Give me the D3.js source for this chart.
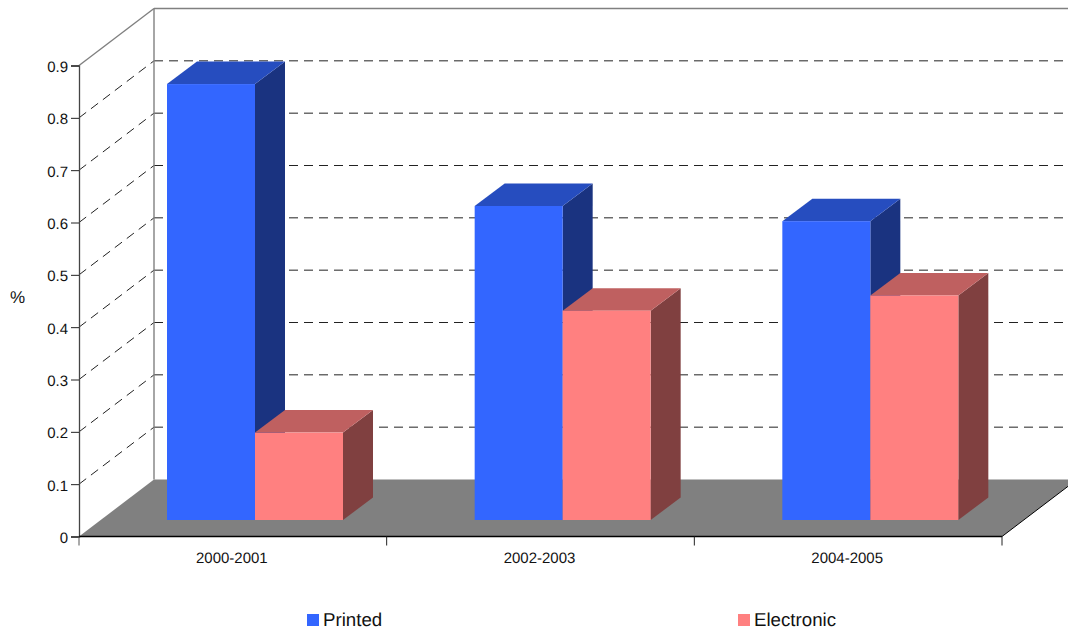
<!DOCTYPE html>
<html><head><meta charset="utf-8">
<script src="https://cdn.jsdelivr.net/npm/d3@7"></script>
<style>html,body{margin:0;background:#fff}svg{display:block;text-rendering:geometricPrecision}text{font-family:"Liberation Sans",Arial,sans-serif;fill:#111}</style>
</head><body><div id="c"></div>
<script>
const categories=["2000-2001","2002-2003","2004-2005"];
const seriesNames=["Printed","Electronic"];
const printed=[0.833,0.6,0.571];
const electronic=[0.167,0.4,0.429];
const yTicks=[0,0.1,0.2,0.3,0.4,0.5,0.6,0.7,0.8,0.9];
const colors=[{f:"#3366ff",t:"#264dbf",s:"#1a3380"},{f:"#ff8080",t:"#bf6060",s:"#804040"}];

const W=1068,H=633,left=79,right=1002,y0=536.5,yTop=65.5;
const wallDx=75,wallDy=-57,barDx=30,barDy=-22.5,barInDy=-16.5,barW=88;
const svg=d3.select("#c").append("svg").attr("width",W).attr("height",H);
const x=d3.scaleBand().domain(categories).range([left,right]);
const y=d3.scaleLinear().domain([0,0.9]).range([y0,yTop]);
const poly=pts=>pts.map(p=>p.join(",")).join(" ");

// gridlines
const grid=svg.append("g").attr("fill","none").attr("stroke","#222").attr("stroke-dasharray","9,6");
yTicks.filter(d=>d>0&&d<0.9).forEach(d=>{
  grid.append("line").attr("x1",left).attr("y1",y(d)).attr("x2",left+wallDx).attr("y2",y(d)+wallDy);
  grid.append("line").attr("x1",left+wallDx).attr("y1",y(d)+wallDy).attr("x2",right+wallDx).attr("y2",y(d)+wallDy);
});
// walls
const wall=svg.append("g").attr("stroke","#808080").attr("stroke-width",1.4).attr("fill","none");
wall.append("line").attr("x1",left).attr("y1",yTop).attr("x2",left+wallDx).attr("y2",yTop+wallDy);
wall.append("line").attr("x1",left+wallDx).attr("y1",yTop+wallDy).attr("x2",left+wallDx).attr("y2",y0+wallDy);
wall.append("line").attr("x1",left+wallDx).attr("y1",yTop+wallDy).attr("x2",right+wallDx).attr("y2",yTop+wallDy);

// floor
svg.append("polygon").attr("points",poly([[left,y0],[left+wallDx,y0+wallDy],[right+wallDx,y0+wallDy],[right,y0]])).attr("fill","#808080");
svg.append("line").attr("x1",right).attr("y1",y0).attr("x2",right+wallDx).attr("y2",y0+wallDy).attr("stroke","#000");

// bars
const base=y0+barInDy;
categories.forEach((c,i)=>{
  [printed[i],electronic[i]].forEach((v,k)=>{
    const x0=x(c)+88+k*barW, x1=x0+barW, top=base-v*(y(0)-y(1));
    const g=svg.append("g").datum({c,v,k});
    g.append("polygon").attr("fill",colors[k].s).attr("points",poly([[x1,base],[x1+barDx,base+barDy],[x1+barDx,top+barDy],[x1,top]]));
    g.append("polygon").attr("fill",colors[k].t).attr("points",poly([[x0,top],[x0+barDx,top+barDy],[x1+barDx,top+barDy],[x1,top]]));
    g.append("rect").attr("x",x0).attr("y",top).attr("width",barW).attr("height",base-top).attr("fill",colors[k].f);
  });
});

// axes
const ya=svg.append("g").attr("transform",`translate(${left},0)`)
  .call(d3.axisLeft(y).tickValues(yTicks).tickFormat(d3.format("~g")).tickSize(8).tickPadding(3));
ya.selectAll("path").attr("stroke","#444").attr("stroke-width",1.3);
ya.selectAll("line").attr("stroke","#222");
ya.selectAll("text").attr("font-size",15).attr("fill","#111").attr("dy","0.4em");
const xa=svg.append("g").attr("transform",`translate(0,${y0})`)
  .call(d3.axisBottom(x).tickSize(0).tickPadding(16));
xa.selectAll("path").attr("stroke","#000").attr("stroke-width",1.3).attr("d",`M${left},0H${right}`);
xa.selectAll("text").attr("font-size",15).attr("fill","#111").attr("dx",-1);
[0,1,2,3].forEach(i=>{
  const tx=i<3?x(categories[i]):right;
  xa.append("line").attr("x1",tx).attr("x2",tx).attr("y1",0).attr("y2",9).attr("stroke",i==0?"#555":"#222");
});

svg.append("text").attr("x",17.5).attr("y",303).attr("text-anchor","middle").attr("font-size",17).text("%");

// legend
const legendX=[307,738];
seriesNames.forEach((n,k)=>{
  svg.append("rect").attr("x",legendX[k]).attr("y",614).attr("width",12).attr("height",12).attr("fill",colors[k].f);
  svg.append("text").attr("x",legendX[k]+16).attr("y",626).attr("font-size",18.7).text(n);
});
</script></body></html>
